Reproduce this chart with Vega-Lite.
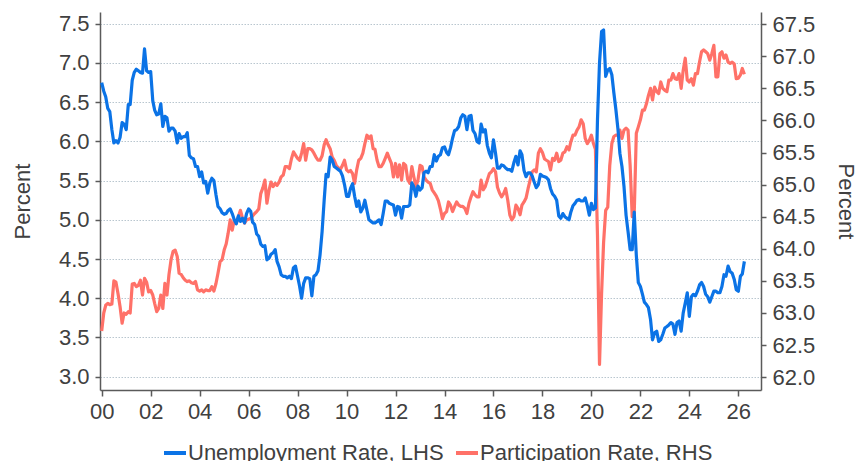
{
"$schema":"https://vega.github.io/schema/vega-lite/v6.json",
"width":661,"height":378,
"autosize":{"type":"none"},
"padding":{"left":100,"top":12,"right":98,"bottom":71},
"background":"white",
"config":{"font":"Liberation Sans","view":{"stroke":null},
 "axis":{"labelFontSize":22,"labelColor":"#404040","titleFontSize":22,"titleFontWeight":"normal","titleColor":"#404040","domainColor":"#5a5a5a","tickColor":"#5a5a5a","domainWidth":1.5,"tickWidth":1.5}},
"data":{"values":[
{"d":"2000-01","u":6.75,"p":62.72},{"d":"2000-02","u":6.64,"p":63.0},{"d":"2000-03","u":6.57,"p":63.12},{"d":"2000-04","u":6.42,"p":63.15},{"d":"2000-05","u":6.38,"p":63.13},{"d":"2000-06","u":6.15,"p":63.14},{"d":"2000-07","u":5.98,"p":63.5},{"d":"2000-08","u":6.01,"p":63.48},{"d":"2000-09","u":5.98,"p":63.3},{"d":"2000-10","u":6.05,"p":63.1},{"d":"2000-11","u":6.24,"p":62.84},{"d":"2000-12","u":6.22,"p":63.0},
{"d":"2001-01","u":6.15,"p":62.98},{"d":"2001-02","u":6.47,"p":63.02},{"d":"2001-03","u":6.47,"p":63.0},{"d":"2001-04","u":6.78,"p":63.45},{"d":"2001-05","u":6.88,"p":63.46},{"d":"2001-06","u":6.92,"p":63.41},{"d":"2001-07","u":6.9,"p":63.43},{"d":"2001-08","u":6.88,"p":63.51},{"d":"2001-09","u":6.87,"p":63.28},{"d":"2001-10","u":7.18,"p":63.54},{"d":"2001-11","u":6.9,"p":63.48},{"d":"2001-12","u":6.88,"p":63.33},
{"d":"2002-01","u":6.89,"p":63.35},{"d":"2002-02","u":6.52,"p":63.28},{"d":"2002-03","u":6.4,"p":63.15},{"d":"2002-04","u":6.34,"p":63.02},{"d":"2002-05","u":6.35,"p":63.07},{"d":"2002-06","u":6.48,"p":63.28},{"d":"2002-07","u":6.19,"p":63.07},{"d":"2002-08","u":6.32,"p":63.46},{"d":"2002-09","u":6.3,"p":63.28},{"d":"2002-10","u":6.13,"p":63.6},{"d":"2002-11","u":6.17,"p":63.83},{"d":"2002-12","u":6.17,"p":63.96},
{"d":"2003-01","u":6.13,"p":63.98},{"d":"2003-02","u":5.98,"p":63.88},{"d":"2003-03","u":6.1,"p":63.62},{"d":"2003-04","u":6.04,"p":63.6},{"d":"2003-05","u":6.06,"p":63.55},{"d":"2003-06","u":6.06,"p":63.51},{"d":"2003-07","u":6.11,"p":63.49},{"d":"2003-08","u":5.82,"p":63.5},{"d":"2003-09","u":5.79,"p":63.47},{"d":"2003-10","u":5.78,"p":63.46},{"d":"2003-11","u":5.68,"p":63.49},{"d":"2003-12","u":5.68,"p":63.36},
{"d":"2004-01","u":5.55,"p":63.34},{"d":"2004-02","u":5.61,"p":63.36},{"d":"2004-03","u":5.47,"p":63.33},{"d":"2004-04","u":5.49,"p":63.36},{"d":"2004-05","u":5.34,"p":63.35},{"d":"2004-06","u":5.47,"p":63.35},{"d":"2004-07","u":5.53,"p":63.41},{"d":"2004-08","u":5.5,"p":63.34},{"d":"2004-09","u":5.32,"p":63.46},{"d":"2004-10","u":5.17,"p":63.62},{"d":"2004-11","u":5.14,"p":63.8},{"d":"2004-12","u":5.09,"p":63.83},
{"d":"2005-01","u":5.07,"p":63.98},{"d":"2005-02","u":5.08,"p":64.08},{"d":"2005-03","u":5.12,"p":64.24},{"d":"2005-04","u":5.14,"p":64.45},{"d":"2005-05","u":5.08,"p":64.29},{"d":"2005-06","u":5.0,"p":64.45},{"d":"2005-07","u":4.95,"p":64.4},{"d":"2005-08","u":5.05,"p":64.5},{"d":"2005-09","u":4.98,"p":64.6},{"d":"2005-10","u":5.02,"p":64.48},{"d":"2005-11","u":4.96,"p":64.4},{"d":"2005-12","u":5.08,"p":64.45},
{"d":"2006-01","u":5.14,"p":64.46},{"d":"2006-02","u":5.11,"p":64.48},{"d":"2006-03","u":4.97,"p":64.51},{"d":"2006-04","u":4.94,"p":64.55},{"d":"2006-05","u":4.82,"p":64.58},{"d":"2006-06","u":4.79,"p":64.62},{"d":"2006-07","u":4.69,"p":64.86},{"d":"2006-08","u":4.66,"p":64.95},{"d":"2006-09","u":4.67,"p":65.07},{"d":"2006-10","u":4.49,"p":64.71},{"d":"2006-11","u":4.51,"p":64.91},{"d":"2006-12","u":4.56,"p":65.04},
{"d":"2007-01","u":4.58,"p":64.97},{"d":"2007-02","u":4.62,"p":65.02},{"d":"2007-03","u":4.47,"p":64.99},{"d":"2007-04","u":4.4,"p":65.04},{"d":"2007-05","u":4.3,"p":65.12},{"d":"2007-06","u":4.28,"p":65.15},{"d":"2007-07","u":4.28,"p":65.28},{"d":"2007-08","u":4.26,"p":65.28},{"d":"2007-09","u":4.28,"p":65.25},{"d":"2007-10","u":4.25,"p":65.4},{"d":"2007-11","u":4.39,"p":65.51},{"d":"2007-12","u":4.41,"p":65.46},
{"d":"2008-01","u":4.28,"p":65.41},{"d":"2008-02","u":4.15,"p":65.38},{"d":"2008-03","u":4.0,"p":65.49},{"d":"2008-04","u":4.19,"p":65.64},{"d":"2008-05","u":4.26,"p":65.38},{"d":"2008-06","u":4.26,"p":65.56},{"d":"2008-07","u":4.25,"p":65.56},{"d":"2008-08","u":4.03,"p":65.54},{"d":"2008-09","u":4.28,"p":65.49},{"d":"2008-10","u":4.3,"p":65.43},{"d":"2008-11","u":4.35,"p":65.38},{"d":"2008-12","u":4.55,"p":65.38},
{"d":"2009-01","u":4.85,"p":65.45},{"d":"2009-02","u":5.25,"p":65.62},{"d":"2009-03","u":5.58,"p":65.7},{"d":"2009-04","u":5.55,"p":65.62},{"d":"2009-05","u":5.8,"p":65.56},{"d":"2009-06","u":5.76,"p":65.43},{"d":"2009-07","u":5.68,"p":65.38},{"d":"2009-08","u":5.66,"p":65.3},{"d":"2009-09","u":5.64,"p":65.26},{"d":"2009-10","u":5.62,"p":65.24},{"d":"2009-11","u":5.56,"p":65.3},{"d":"2009-12","u":5.45,"p":65.38},
{"d":"2010-01","u":5.3,"p":65.23},{"d":"2010-02","u":5.3,"p":65.2},{"d":"2010-03","u":5.4,"p":65.22},{"d":"2010-04","u":5.46,"p":65.17},{"d":"2010-05","u":5.3,"p":65.02},{"d":"2010-06","u":5.17,"p":65.23},{"d":"2010-07","u":5.24,"p":65.38},{"d":"2010-08","u":5.1,"p":65.41},{"d":"2010-09","u":5.15,"p":65.49},{"d":"2010-10","u":5.25,"p":65.64},{"d":"2010-11","u":5.12,"p":65.77},{"d":"2010-12","u":5.0,"p":65.72},
{"d":"2011-01","u":4.98,"p":65.76},{"d":"2011-02","u":4.96,"p":65.56},{"d":"2011-03","u":4.96,"p":65.55},{"d":"2011-04","u":4.98,"p":65.38},{"d":"2011-05","u":5.0,"p":65.28},{"d":"2011-06","u":4.94,"p":65.28},{"d":"2011-07","u":5.08,"p":65.33},{"d":"2011-08","u":5.24,"p":65.41},{"d":"2011-09","u":5.24,"p":65.49},{"d":"2011-10","u":5.21,"p":65.41},{"d":"2011-11","u":5.2,"p":65.33},{"d":"2011-12","u":5.19,"p":65.12},
{"d":"2012-01","u":5.06,"p":65.33},{"d":"2012-02","u":5.17,"p":65.12},{"d":"2012-03","u":5.16,"p":65.31},{"d":"2012-04","u":5.02,"p":65.07},{"d":"2012-05","u":5.17,"p":65.33},{"d":"2012-06","u":5.17,"p":65.3},{"d":"2012-07","u":5.17,"p":65.08},{"d":"2012-08","u":5.19,"p":65.02},{"d":"2012-09","u":5.47,"p":65.28},{"d":"2012-10","u":5.42,"p":65.12},{"d":"2012-11","u":5.3,"p":64.97},{"d":"2012-12","u":5.43,"p":65.07},
{"d":"2013-01","u":5.38,"p":65.3},{"d":"2013-02","u":5.41,"p":65.28},{"d":"2013-03","u":5.6,"p":65.12},{"d":"2013-04","u":5.62,"p":65.07},{"d":"2013-05","u":5.6,"p":65.04},{"d":"2013-06","u":5.68,"p":65.02},{"d":"2013-07","u":5.68,"p":64.92},{"d":"2013-08","u":5.83,"p":64.87},{"d":"2013-09","u":5.75,"p":64.82},{"d":"2013-10","u":5.81,"p":64.75},{"d":"2013-11","u":5.83,"p":64.62},{"d":"2013-12","u":5.92,"p":64.47},
{"d":"2014-01","u":5.93,"p":64.55},{"d":"2014-02","u":5.86,"p":64.58},{"d":"2014-03","u":5.83,"p":64.73},{"d":"2014-04","u":5.92,"p":64.68},{"d":"2014-05","u":6.04,"p":64.58},{"d":"2014-06","u":6.14,"p":64.66},{"d":"2014-07","u":6.15,"p":64.73},{"d":"2014-08","u":6.19,"p":64.68},{"d":"2014-09","u":6.3,"p":64.66},{"d":"2014-10","u":6.34,"p":64.66},{"d":"2014-11","u":6.32,"p":64.63},{"d":"2014-12","u":6.15,"p":64.55},
{"d":"2015-01","u":6.32,"p":64.71},{"d":"2015-02","u":6.33,"p":64.81},{"d":"2015-03","u":6.14,"p":64.89},{"d":"2015-04","u":6.1,"p":64.84},{"d":"2015-05","u":6.0,"p":64.81},{"d":"2015-06","u":5.98,"p":64.81},{"d":"2015-07","u":6.22,"p":65.07},{"d":"2015-08","u":6.12,"p":64.92},{"d":"2015-09","u":6.15,"p":64.97},{"d":"2015-10","u":5.95,"p":65.07},{"d":"2015-11","u":5.85,"p":65.17},{"d":"2015-12","u":5.79,"p":65.2},
{"d":"2016-01","u":6.02,"p":65.25},{"d":"2016-02","u":5.85,"p":65.2},{"d":"2016-03","u":5.66,"p":64.96},{"d":"2016-04","u":5.66,"p":64.87},{"d":"2016-05","u":5.7,"p":64.81},{"d":"2016-06","u":5.69,"p":64.86},{"d":"2016-07","u":5.66,"p":64.94},{"d":"2016-08","u":5.64,"p":64.76},{"d":"2016-09","u":5.64,"p":64.53},{"d":"2016-10","u":5.62,"p":64.45},{"d":"2016-11","u":5.73,"p":64.5},{"d":"2016-12","u":5.81,"p":64.68},
{"d":"2017-01","u":5.7,"p":64.63},{"d":"2017-02","u":5.88,"p":64.53},{"d":"2017-03","u":5.83,"p":64.68},{"d":"2017-04","u":5.63,"p":64.73},{"d":"2017-05","u":5.55,"p":64.79},{"d":"2017-06","u":5.6,"p":64.94},{"d":"2017-07","u":5.6,"p":65.07},{"d":"2017-08","u":5.56,"p":65.2},{"d":"2017-09","u":5.48,"p":65.23},{"d":"2017-10","u":5.41,"p":65.2},{"d":"2017-11","u":5.45,"p":65.49},{"d":"2017-12","u":5.58,"p":65.56},
{"d":"2018-01","u":5.56,"p":65.5},{"d":"2018-02","u":5.55,"p":65.4},{"d":"2018-03","u":5.54,"p":65.38},{"d":"2018-04","u":5.51,"p":65.36},{"d":"2018-05","u":5.4,"p":65.23},{"d":"2018-06","u":5.33,"p":65.41},{"d":"2018-07","u":5.3,"p":65.38},{"d":"2018-08","u":5.25,"p":65.49},{"d":"2018-09","u":5.05,"p":65.36},{"d":"2018-10","u":5.02,"p":65.38},{"d":"2018-11","u":5.08,"p":65.49},{"d":"2018-12","u":5.04,"p":65.51},
{"d":"2019-01","u":5.02,"p":65.59},{"d":"2019-02","u":5.0,"p":65.54},{"d":"2019-03","u":5.1,"p":65.67},{"d":"2019-04","u":5.18,"p":65.77},{"d":"2019-05","u":5.21,"p":65.77},{"d":"2019-06","u":5.25,"p":65.85},{"d":"2019-07","u":5.26,"p":65.9},{"d":"2019-08","u":5.24,"p":66.01},{"d":"2019-09","u":5.24,"p":65.95},{"d":"2019-10","u":5.28,"p":65.72},{"d":"2019-11","u":5.18,"p":65.64},{"d":"2019-12","u":5.06,"p":65.69},
{"d":"2020-01","u":5.21,"p":65.77},{"d":"2020-02","u":5.13,"p":65.64},{"d":"2020-03","u":5.15,"p":65.55},{"d":"2020-04","u":6.28,"p":64.2},{"d":"2020-05","u":7.0,"p":62.2},{"d":"2020-06","u":7.4,"p":63.3},{"d":"2020-07","u":7.42,"p":64.1},{"d":"2020-08","u":6.83,"p":64.6},{"d":"2020-09","u":6.91,"p":64.65},{"d":"2020-10","u":6.93,"p":65.3},{"d":"2020-11","u":6.85,"p":65.64},{"d":"2020-12","u":6.62,"p":65.75},
{"d":"2021-01","u":6.4,"p":65.77},{"d":"2021-02","u":6.15,"p":65.77},{"d":"2021-03","u":5.85,"p":65.85},{"d":"2021-04","u":5.68,"p":65.72},{"d":"2021-05","u":5.43,"p":65.85},{"d":"2021-06","u":5.06,"p":65.88},{"d":"2021-07","u":4.85,"p":65.85},{"d":"2021-08","u":4.62,"p":65.3},{"d":"2021-09","u":4.62,"p":64.5},{"d":"2021-10","u":5.1,"p":64.55},{"d":"2021-11","u":4.55,"p":65.8},{"d":"2021-12","u":4.2,"p":65.9},
{"d":"2022-01","u":4.15,"p":66.01},{"d":"2022-02","u":4.05,"p":66.16},{"d":"2022-03","u":3.95,"p":66.16},{"d":"2022-04","u":3.92,"p":66.26},{"d":"2022-05","u":3.88,"p":66.39},{"d":"2022-06","u":3.73,"p":66.5},{"d":"2022-07","u":3.47,"p":66.32},{"d":"2022-08","u":3.56,"p":66.52},{"d":"2022-09","u":3.58,"p":66.45},{"d":"2022-10","u":3.45,"p":66.42},{"d":"2022-11","u":3.47,"p":66.6},{"d":"2022-12","u":3.54,"p":66.5},
{"d":"2023-01","u":3.62,"p":66.47},{"d":"2023-02","u":3.64,"p":66.45},{"d":"2023-03","u":3.66,"p":66.63},{"d":"2023-04","u":3.69,"p":66.63},{"d":"2023-05","u":3.67,"p":66.73},{"d":"2023-06","u":3.54,"p":66.65},{"d":"2023-07","u":3.69,"p":66.64},{"d":"2023-08","u":3.71,"p":66.73},{"d":"2023-09","u":3.58,"p":66.5},{"d":"2023-10","u":3.81,"p":66.78},{"d":"2023-11","u":3.94,"p":66.97},{"d":"2023-12","u":4.07,"p":66.63},
{"d":"2024-01","u":3.77,"p":66.6},{"d":"2024-02","u":4.02,"p":66.65},{"d":"2024-03","u":4.05,"p":66.55},{"d":"2024-04","u":4.03,"p":66.73},{"d":"2024-05","u":4.09,"p":66.73},{"d":"2024-06","u":4.17,"p":66.91},{"d":"2024-07","u":4.2,"p":67.07},{"d":"2024-08","u":4.15,"p":67.1},{"d":"2024-09","u":4.05,"p":67.07},{"d":"2024-10","u":4.02,"p":67.04},{"d":"2024-11","u":3.95,"p":66.94},{"d":"2024-12","u":4.02,"p":67.04},
{"d":"2025-01","u":4.09,"p":67.17},{"d":"2025-02","u":4.09,"p":66.68},{"d":"2025-03","u":4.07,"p":66.68},{"d":"2025-04","u":4.07,"p":67.04},{"d":"2025-05","u":4.15,"p":67.07},{"d":"2025-06","u":4.3,"p":66.97},{"d":"2025-07","u":4.28,"p":67.02},{"d":"2025-08","u":4.41,"p":66.91},{"d":"2025-09","u":4.34,"p":66.89},{"d":"2025-10","u":4.32,"p":66.91},{"d":"2025-11","u":4.24,"p":66.88},{"d":"2025-12","u":4.11,"p":66.65},
{"d":"2026-01","u":4.09,"p":66.66},{"d":"2026-02","u":4.28,"p":66.71},{"d":"2026-03","u":4.31,"p":66.81},{"d":"2026-04","u":4.47,"p":66.72}
]},
"encoding":{"x":{"field":"d","type":"temporal",
 "scale":{"type":"utc","domain":[{"year":1999,"month":12,"date":7,"utc":true},{"year":2026,"month":12,"date":5,"utc":true}]},
 "axis":{"title":null,"format":"%y","grid":false,"tickSize":6,"labelPadding":5,
  "values":[{"year":2000,"month":1,"date":1,"utc":true},{"year":2002,"month":1,"date":1,"utc":true},{"year":2004,"month":1,"date":1,"utc":true},{"year":2006,"month":1,"date":1,"utc":true},{"year":2008,"month":1,"date":1,"utc":true},{"year":2010,"month":1,"date":1,"utc":true},{"year":2012,"month":1,"date":1,"utc":true},{"year":2014,"month":1,"date":1,"utc":true},{"year":2016,"month":1,"date":1,"utc":true},{"year":2018,"month":1,"date":1,"utc":true},{"year":2020,"month":1,"date":1,"utc":true},{"year":2022,"month":1,"date":1,"utc":true},{"year":2024,"month":1,"date":1,"utc":true},{"year":2026,"month":1,"date":1,"utc":true}]}}},
"layer":[
 {"mark":{"type":"line","strokeWidth":3.2,"strokeJoin":"round"},
  "encoding":{
   "y":{"field":"p","type":"quantitative","scale":{"domain":[61.8,67.69],"nice":false,"zero":false},
    "axis":{"orient":"right","title":"Percent","values":[62,62.5,63,63.5,64,64.5,65,65.5,66,66.5,67,67.5],"format":".1f","grid":false,"tickSize":5,"labelPadding":6,"titlePadding":19}},
   "color":{"datum":"Participation Rate, RHS"}}},
 {"mark":{"type":"line","strokeWidth":3.2,"strokeJoin":"round"},
  "encoding":{
   "y":{"field":"u","type":"quantitative","scale":{"domain":[2.83,7.65],"nice":false,"zero":false},
    "axis":{"orient":"left","title":"Percent","values":[3,3.5,4,4.5,5,5.5,6,6.5,7,7.5],"format":".1f","grid":true,"gridColor":"#b9c6cf","gridDash":[1.5,1.5],"gridWidth":1,"tickSize":5,"labelPadding":6,"titlePadding":24}},
   "color":{"datum":"Unemployment Rate, LHS",
    "scale":{"domain":["Unemployment Rate, LHS","Participation Rate, RHS"],"range":["#0B73E6","#FF7168"]},
    "legend":{"title":null,"orient":"none","legendX":62,"legendY":428,"direction":"horizontal","symbolType":"stroke","symbolStrokeWidth":4,"symbolSize":484,"labelFontSize":22,"labelColor":"#404040","labelOffset":0,"labelLimit":400,"columnPadding":4,"padding":0}}}}
],
"resolve":{"scale":{"y":"independent"}}
}
